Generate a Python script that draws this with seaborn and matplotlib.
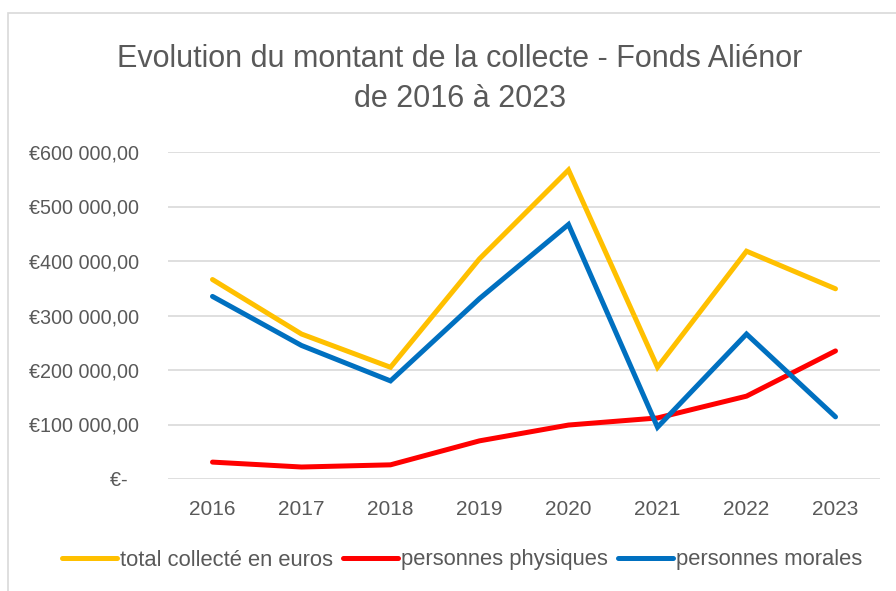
import matplotlib
matplotlib.use("Agg")
import matplotlib.pyplot as plt
import matplotlib.ticker as mticker
from matplotlib.patches import Rectangle
import seaborn as sns
import pandas as pd

years = [2016, 2017, 2018, 2019, 2020, 2021, 2022, 2023]
total = [366000, 266000, 205000, 404000, 567000, 205000, 418000, 349000]
physiques = [31000, 22000, 26000, 70000, 99000, 112000, 152000, 235000]
morales = [335000, 245000, 180000, 331000, 467000, 95000, 266000, 114000]
series_names = ["total collecté en euros", "personnes physiques", "personnes morales"]
colors = ["#FFC000", "#FF0000", "#0070C0"]
yticks = [0, 100000, 200000, 300000, 400000, 500000, 600000]
title = "Evolution du montant de la collecte - Fonds Aliénor\nde 2016 à 2023"

sns.set_theme(style="white")
plt.rcParams['font.family'] = ['Liberation Sans', 'DejaVu Sans']
txt = "#595959"

df = pd.DataFrame({
    "year": years * 3,
    "value": total + physiques + morales,
    "serie": [series_names[0]] * 8 + [series_names[1]] * 8 + [series_names[2]] * 8,
})

fig = plt.figure(figsize=(8.96, 5.91), dpi=100)
ax = fig.add_axes([168/896, 1-479/591, 712/896, 327/591])

sns.lineplot(data=df, x="year", y="value", hue="serie", hue_order=series_names,
             palette=colors, linewidth=3.6, ax=ax, legend=True, sort=False)
for ln in ax.lines:
    ln.set_solid_capstyle("round")
    ln.set_solid_joinstyle("miter")

ax.set_xlim(2015.5, 2023.5)
ax.set_ylim(0, 600000)
ax.set_xticks(years)
ax.set_xticklabels([str(y) for y in years])
ax.set_yticks(yticks)

def fmt(v, pos):
    if v == 0:
        return "€-  "
    s = f"{int(v):,}".replace(",", " ")
    return f"€{s},00"
ax.yaxis.set_major_formatter(mticker.FuncFormatter(fmt))
ax.yaxis.grid(True, color="#D9D9D9", linewidth=1.2)
ax.set_axisbelow(True)
for sp in ax.spines.values():
    sp.set_visible(False)
ax.tick_params(axis="x", length=0, labelsize=15, labelcolor=txt, pad=15)
ax.tick_params(axis="y", length=0, labelsize=14.2, labelcolor=txt, pad=21)
ax.set_xlabel("")
ax.set_ylabel("")

fig.text(460/896, 1-44/591, title, ha="center", va="top", fontsize=22,
         color=txt, linespacing=1.45)

leg = ax.legend(loc="center", bbox_to_anchor=(462/896, 1-560/591),
                bbox_transform=fig.transFigure, ncol=3, frameon=False,
                fontsize=15.8, handlelength=2.5, handletextpad=0.15,
                columnspacing=0.45)
for t in leg.get_texts():
    t.set_color(txt)
for h in leg.get_lines():
    h.set_linewidth(3.6)
    h.set_solid_capstyle("round")

fig.patches.append(Rectangle((8/896, -0.01), 1.2, 1-13/591+0.01, transform=fig.transFigure,
                             fill=False, edgecolor="#D9D9D9", linewidth=1.2))

fig.savefig("out.png", dpi=100)
